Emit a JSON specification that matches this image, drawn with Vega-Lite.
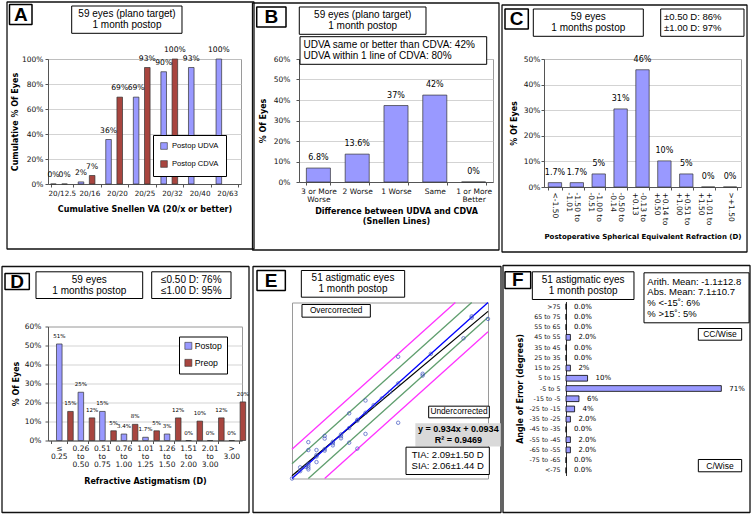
{
"$schema":"https://vega.github.io/schema/vega-lite/v6.json",
"background":"white",
"padding":0,
"columns":3,
"align":"none",
"spacing":{"row":-47.5,"column":-63},
"resolve":{"scale":{"color":"independent"},"legend":{"color":"independent"}},
"config":{
 "font":"DejaVu Sans",
 "view":{"stroke":"#9a9a9a","strokeWidth":1},
 "rect":{"strokeJoin":"bevel"},
 "axis":{"labelFont":"DejaVu Sans","labelFontSize":7.5,"labelColor":"#111","titleFont":"DejaVu Sans","titleFontSize":8,"titleFontWeight":"bold","titleColor":"#000","gridColor":"#c8c8c8","gridWidth":0.8,"domainColor":"#555","tickColor":"#555","tickSize":3},
 "text":{"color":"#000"}
},
"concat":[
{
 "width":193,"height":125,
 "resolve":{"scale":{"x":"independent","y":"independent"}},
 "layer":[
  {"data":{"values":[
    {"va":"20/12.5","series":"Postop UDVA","pct":0,"label":"0%"},
    {"va":"20/12.5","series":"Postop CDVA","pct":0,"label":"0%"},
    {"va":"20/16","series":"Postop UDVA","pct":1.7,"label":"2%"},
    {"va":"20/16","series":"Postop CDVA","pct":6.8,"label":"7%"},
    {"va":"20/20","series":"Postop UDVA","pct":35.6,"label":"36%"},
    {"va":"20/20","series":"Postop CDVA","pct":69.5,"label":"69%"},
    {"va":"20/25","series":"Postop UDVA","pct":69.5,"label":"69%"},
    {"va":"20/25","series":"Postop CDVA","pct":93.2,"label":"93%"},
    {"va":"20/32","series":"Postop UDVA","pct":89.8,"label":"90%"},
    {"va":"20/32","series":"Postop CDVA","pct":100,"label":"100%"},
    {"va":"20/40","series":"Postop UDVA","pct":93.2,"label":"93%"},
    {"va":"20/63","series":"Postop UDVA","pct":100,"label":"100%"}]},
   "encoding":{
    "x":{"field":"va","type":"nominal","sort":null,"scale":{"paddingInner":0.19,"paddingOuter":0.095},
      "axis":{"title":"Cumulative Snellen VA (20/x or better)","labelAngle":0,"labelFontSize":7.2,"tickBand":"extent","labelPadding":2,"titlePadding":9}},
    "xOffset":{"field":"series","type":"nominal","sort":["Postop UDVA","Postop CDVA"]},
    "y":{"field":"pct","type":"quantitative","scale":{"domain":[0,100]},
      "axis":{"title":"Cumulative % Of Eyes","values":[0,20,40,60,80,100],"labelExpr":"datum.value + '%'","labelPadding":2,"titlePadding":2,"grid":true}}
   },
   "layer":[
    {"mark":{"type":"bar","stroke":"#333","strokeWidth":0.7},
     "encoding":{"color":{"field":"series","type":"nominal","scale":{"domain":["Postop UDVA","Postop CDVA"],"range":["#9999ff","#a8453f"]},
       "legend":{"title":null,"orient":"none","legendX":105,"legendY":76,"padding":7,"rowPadding":8,"symbolType":"square","symbolSize":45,"symbolStrokeColor":"#333","symbolStrokeWidth":0.6,"labelFont":"Liberation Sans","labelFontSize":7.6,"strokeColor":"#000","fillColor":"#fff"}}}},
    {"mark":{"type":"text","dy":-9,"fontSize":7.6},"encoding":{"text":{"field":"label"}}}
   ]},
  {"data":{"values":[{}]},"layer":[
   {"mark":{"type":"rect","fill":"#fff","fillOpacity":0,"strokeWidth":0},"encoding":{"x":{"datum":-0.2124,"type":"quantitative","scale":{"domain":[0,1]},"axis":null},"x2":{"datum":1.2228},"y":{"datum":1.456,"type":"quantitative","scale":{"domain":[0,1]},"axis":null},"y2":{"datum":-0.76}}},
   {"mark":{"type":"rect","fill":"#fff","fillOpacity":0,"stroke":"#111","strokeWidth":1.3},"encoding":{"x":{"datum":-0.2124,"type":"quantitative","scale":{"domain":[0,1]},"axis":null},"x2":{"datum":1.0674},"y":{"datum":1.456,"type":"quantitative","scale":{"domain":[0,1]},"axis":null},"y2":{"datum":-0.52}}},
   {"mark":{"type":"rect","fill":"#fff","stroke":"#000","strokeWidth":1.5},"encoding":{"x":{"datum":-0.1995,"type":"quantitative","scale":{"domain":[0,1]},"axis":null},"x2":{"datum":-0.0829},"y":{"datum":1.436,"type":"quantitative","scale":{"domain":[0,1]},"axis":null},"y2":{"datum":1.276}}},
   {"mark":{"type":"text","font":"Liberation Sans","fontSize":19,"fontWeight":"bold","align":"center","baseline":"middle"},"encoding":{"x":{"datum":-0.1412,"type":"quantitative","scale":{"domain":[0,1]},"axis":null},"y":{"datum":1.356,"type":"quantitative","scale":{"domain":[0,1]},"axis":null},"text":{"value":"A"}}},
   {"mark":{"type":"rect","fill":"#fff","stroke":"#000","strokeWidth":1},"encoding":{"x":{"datum":0.1228,"type":"quantitative","scale":{"domain":[0,1]},"axis":null},"x2":{"datum":0.6943},"y":{"datum":1.424,"type":"quantitative","scale":{"domain":[0,1]},"axis":null},"y2":{"datum":1.2056}}},
   {"mark":{"type":"text","font":"Liberation Sans","fontSize":10,"lineHeight":11,"align":"center","baseline":"middle"},"encoding":{"x":{"datum":0.4093,"type":"quantitative","scale":{"domain":[0,1]},"axis":null},"y":{"datum":1.3584,"type":"quantitative","scale":{"domain":[0,1]},"axis":null},"text":{"value":["59 eyes (plano target)","1 month postop"]}}}
  ]}
 ]
},
{
 "width":194,"height":123,
 "resolve":{"scale":{"x":"independent","y":"independent"}},
 "layer":[
  {"data":{"values":[
    {"diff":"3 or More Worse","pct":6.8,"label":"6.8%"},
    {"diff":"2 Worse","pct":13.6,"label":"13.6%"},
    {"diff":"1 Worse","pct":37.3,"label":"37%"},
    {"diff":"Same","pct":42.4,"label":"42%"},
    {"diff":"1 or More Better","pct":0,"label":"0%"}]},
   "encoding":{
    "x":{"field":"diff","type":"nominal","sort":null,"scale":{"paddingInner":0.38,"paddingOuter":0.19},
      "axis":{"title":["Difference between  UDVA and CDVA","(Snellen Lines)"],"titleLineHeight":10,"labelAngle":0,"tickBand":"extent","labelPadding":2,"labelLineHeight":8,"titlePadding":5,
        "labelExpr":"datum.label == '3 or More Worse' ? ['3 or More', 'Worse'] : datum.label == '1 or More Better' ? ['1 or More', 'Better'] : datum.label"}},
    "y":{"field":"pct","type":"quantitative","scale":{"domain":[0,60]},
      "axis":{"title":"% Of Eyes","values":[0,10,20,30,40,50,60],"labelExpr":"datum.value + '%'","labelPadding":6,"titlePadding":6,"grid":true}}
   },
   "layer":[
    {"mark":{"type":"bar","stroke":"#333","strokeWidth":0.7,"color":"#9999ff"}},
    {"mark":{"type":"text","dy":-10,"fontSize":8},"encoding":{"text":{"field":"label"}}}
   ]},
  {"data":{"values":[{}]},"layer":[
   {"mark":{"type":"rect","fill":"#fff","fillOpacity":0,"strokeWidth":0},"encoding":{"x":{"datum":-0.3943,"type":"quantitative","scale":{"domain":[0,1]},"axis":null},"x2":{"datum":1.1856},"y":{"datum":1.4553,"type":"quantitative","scale":{"domain":[0,1]},"axis":null},"y2":{"datum":-0.7967}}},
   {"mark":{"type":"rect","fill":"#fff","fillOpacity":0,"stroke":"#111","strokeWidth":1.3},"encoding":{"x":{"datum":-0.2397,"type":"quantitative","scale":{"domain":[0,1]},"axis":null},"x2":{"datum":1.0309},"y":{"datum":1.4553,"type":"quantitative","scale":{"domain":[0,1]},"axis":null},"y2":{"datum":-0.5528}}},
   {"mark":{"type":"rect","fill":"#fff","stroke":"#000","strokeWidth":1.5},"encoding":{"x":{"datum":-0.218,"type":"quantitative","scale":{"domain":[0,1]},"axis":null},"x2":{"datum":-0.067},"y":{"datum":1.4228,"type":"quantitative","scale":{"domain":[0,1]},"axis":null},"y2":{"datum":1.2602}}},
   {"mark":{"type":"text","font":"Liberation Sans","fontSize":19,"fontWeight":"bold","align":"center","baseline":"middle"},"encoding":{"x":{"datum":-0.1428,"type":"quantitative","scale":{"domain":[0,1]},"axis":null},"y":{"datum":1.3415,"type":"quantitative","scale":{"domain":[0,1]},"axis":null},"text":{"value":"B"}}},
   {"mark":{"type":"rect","fill":"#fff","stroke":"#000","strokeWidth":1},"encoding":{"x":{"datum":0.0015,"type":"quantitative","scale":{"domain":[0,1]},"axis":null},"x2":{"datum":0.6546},"y":{"datum":1.4228,"type":"quantitative","scale":{"domain":[0,1]},"axis":null},"y2":{"datum":1.2008}}},
   {"mark":{"type":"text","font":"Liberation Sans","fontSize":10,"lineHeight":11,"align":"center","baseline":"middle"},"encoding":{"x":{"datum":0.3284,"type":"quantitative","scale":{"domain":[0,1]},"axis":null},"y":{"datum":1.3561,"type":"quantitative","scale":{"domain":[0,1]},"axis":null},"text":{"value":["59 eyes (plano target)","1 month postop"]}}},
   {"mark":{"type":"rect","fill":"#fff","stroke":"#000","strokeWidth":1},"encoding":{"x":{"datum":0.0052,"type":"quantitative","scale":{"domain":[0,1]},"axis":null},"x2":{"datum":0.9675},"y":{"datum":1.1813,"type":"quantitative","scale":{"domain":[0,1]},"axis":null},"y2":{"datum":0.9569}}},
   {"mark":{"type":"text","font":"Liberation Sans","fontSize":10,"lineHeight":11,"align":"left","baseline":"middle"},"encoding":{"x":{"datum":0.0232,"type":"quantitative","scale":{"domain":[0,1]},"axis":null},"y":{"datum":1.1138,"type":"quantitative","scale":{"domain":[0,1]},"axis":null},"text":{"value":["UDVA same or better than CDVA: 42%","UDVA within 1 line of CDVA: 80%"]}}}
  ]}
 ]
},
{
 "width":197,"height":128,
 "resolve":{"scale":{"x":"independent","y":"independent"}},
 "layer":[
  {"data":{"values":[
    {"se":"<-1.50","pct":1.7,"label":"1.7%"},
    {"se":"-1.50 to -1.01","pct":1.7,"label":"1.7%"},
    {"se":"-1.00 to -0.51","pct":5.1,"label":"5%"},
    {"se":"-0.50 to -0.14","pct":30.5,"label":"31%"},
    {"se":"-0.13 to +0.13","pct":45.8,"label":"46%"},
    {"se":"+0.14 to +0.50","pct":10.2,"label":"10%"},
    {"se":"+0.51 to +1.00","pct":5.1,"label":"5%"},
    {"se":"+1.01 to +1.50","pct":0,"label":"0%"},
    {"se":">+1.50","pct":0,"label":"0%"}]},
   "encoding":{
    "x":{"field":"se","type":"nominal","sort":null,"scale":{"paddingInner":0.39,"paddingOuter":0.195},
      "axis":{"title":"Postoperative Spherical Equivalent Refraction (D)","titleFontSize":7,"labelAngle":90,"tickBand":"extent","labelPadding":2,"labelLineHeight":8,"titlePadding":8,
        "labelExpr":"split(replace(datum.label, ' to ', ' to|'), '|')"}},
    "y":{"field":"pct","type":"quantitative","scale":{"domain":[0,50]},
      "axis":{"title":"% Of Eyes","values":[0,10,20,30,40,50],"labelExpr":"datum.value + '%'","labelPadding":1,"titlePadding":5,"grid":true}}
   },
   "layer":[
    {"mark":{"type":"bar","stroke":"#333","strokeWidth":0.7,"color":"#9999ff"}},
    {"mark":{"type":"text","dy":-10,"fontSize":8},"encoding":{"text":{"field":"label"}}}
   ]},
  {"data":{"values":[{}]},"layer":[
   {"mark":{"type":"rect","fill":"#fff","fillOpacity":0,"strokeWidth":0},"encoding":{"x":{"datum":-0.3401,"type":"quantitative","scale":{"domain":[0,1]},"axis":null},"x2":{"datum":1.0305},"y":{"datum":1.4219,"type":"quantitative","scale":{"domain":[0,1]},"axis":null},"y2":{"datum":-0.7422}}},
   {"mark":{"type":"rect","fill":"#fff","fillOpacity":0,"stroke":"#111","strokeWidth":1.3},"encoding":{"x":{"datum":-0.2132,"type":"quantitative","scale":{"domain":[0,1]},"axis":null},"x2":{"datum":1.0305},"y":{"datum":1.4219,"type":"quantitative","scale":{"domain":[0,1]},"axis":null},"y2":{"datum":-0.5078}}},
   {"mark":{"type":"rect","fill":"#fff","stroke":"#000","strokeWidth":1.5},"encoding":{"x":{"datum":-0.198,"type":"quantitative","scale":{"domain":[0,1]},"axis":null},"x2":{"datum":-0.0797},"y":{"datum":1.3906,"type":"quantitative","scale":{"domain":[0,1]},"axis":null},"y2":{"datum":1.2344}}},
   {"mark":{"type":"text","font":"Liberation Sans","fontSize":19,"fontWeight":"bold","align":"center","baseline":"middle"},"encoding":{"x":{"datum":-0.1386,"type":"quantitative","scale":{"domain":[0,1]},"axis":null},"y":{"datum":1.3125,"type":"quantitative","scale":{"domain":[0,1]},"axis":null},"text":{"value":"C"}}},
   {"mark":{"type":"rect","fill":"#fff","stroke":"#000","strokeWidth":1},"encoding":{"x":{"datum":-0.0543,"type":"quantitative","scale":{"domain":[0,1]},"axis":null},"x2":{"datum":0.5041},"y":{"datum":1.3906,"type":"quantitative","scale":{"domain":[0,1]},"axis":null},"y2":{"datum":1.1773}}},
   {"mark":{"type":"text","font":"Liberation Sans","fontSize":10,"lineHeight":11,"align":"center","baseline":"middle"},"encoding":{"x":{"datum":0.2249,"type":"quantitative","scale":{"domain":[0,1]},"axis":null},"y":{"datum":1.3266,"type":"quantitative","scale":{"domain":[0,1]},"axis":null},"text":{"value":["59 eyes","1 months postop"]}}},
   {"mark":{"type":"rect","fill":"#fff","stroke":"#000","strokeWidth":1},"encoding":{"x":{"datum":0.5924,"type":"quantitative","scale":{"domain":[0,1]},"axis":null},"x2":{"datum":1.0152},"y":{"datum":1.3906,"type":"quantitative","scale":{"domain":[0,1]},"axis":null},"y2":{"datum":1.1773}}},
   {"mark":{"type":"text","font":"Liberation Sans","fontSize":9.5,"lineHeight":11,"align":"left","baseline":"middle"},"encoding":{"x":{"datum":0.6091,"type":"quantitative","scale":{"domain":[0,1]},"axis":null},"y":{"datum":1.3266,"type":"quantitative","scale":{"domain":[0,1]},"axis":null},"text":{"value":["±0.50 D: 86%","±1.00 D: 97%"]}}}
  ]}
 ]
},
{
 "width":194,"height":114,
 "resolve":{"scale":{"x":"independent","y":"independent"}},
 "layer":[
  {"data":{"values":[
    {"ast":"≤ 0.25","series":"Postop","pct":50.8,"label":"51%"},
    {"ast":"≤ 0.25","series":"Preop","pct":15.3,"label":"15%"},
    {"ast":"0.26 to 0.50","series":"Postop","pct":25.4,"label":"25%"},
    {"ast":"0.26 to 0.50","series":"Preop","pct":11.9,"label":"12%"},
    {"ast":"0.51 to 0.75","series":"Postop","pct":15.3,"label":"15%"},
    {"ast":"0.51 to 0.75","series":"Preop","pct":5.1,"label":"5%"},
    {"ast":"0.76 to 1.00","series":"Postop","pct":3.4,"label":"3.4%"},
    {"ast":"0.76 to 1.00","series":"Preop","pct":8.5,"label":"8%"},
    {"ast":"1.01 to 1.25","series":"Postop","pct":1.7,"label":"1.7%"},
    {"ast":"1.01 to 1.25","series":"Preop","pct":5.1,"label":"5%"},
    {"ast":"1.26 to 1.50","series":"Postop","pct":3.4,"label":"3%"},
    {"ast":"1.26 to 1.50","series":"Preop","pct":11.9,"label":"12%"},
    {"ast":"1.51 to 2.00","series":"Postop","pct":0,"label":"0%"},
    {"ast":"1.51 to 2.00","series":"Preop","pct":10.2,"label":"10%"},
    {"ast":"2.01 to 3.00","series":"Postop","pct":0,"label":"0%"},
    {"ast":"2.01 to 3.00","series":"Preop","pct":11.9,"label":"12%"},
    {"ast":"> 3.00","series":"Postop","pct":0,"label":"0%"},
    {"ast":"> 3.00","series":"Preop","pct":20.3,"label":"20%"}]},
   "encoding":{
    "x":{"field":"ast","type":"nominal","sort":null,"scale":{"paddingInner":0.27,"paddingOuter":0.135},
      "axis":{"title":"Refractive Astigmatism (D)","labelAngle":0,"tickBand":"extent","labelPadding":1,"labelLineHeight":8,"titlePadding":9,"labelExpr":"split(datum.label, ' ')"}},
    "xOffset":{"field":"series","type":"nominal","sort":["Postop","Preop"]},
    "y":{"field":"pct","type":"quantitative","scale":{"domain":[0,60]},
      "axis":{"title":"% Of Eyes","values":[0,10,20,30,40,50,60],"labelExpr":"datum.value + '%'","labelPadding":4,"titlePadding":4,"grid":true}}
   },
   "layer":[
    {"mark":{"type":"bar","stroke":"#333","strokeWidth":0.7},
     "encoding":{"color":{"field":"series","type":"nominal","scale":{"domain":["Postop","Preop"],"range":["#9999ff","#a8453f"]},
       "legend":{"title":null,"orient":"none","legendX":131,"legendY":10,"padding":5,"rowPadding":6,"symbolType":"square","symbolSize":49,"symbolStrokeColor":"#333","symbolStrokeWidth":0.6,"labelFont":"Liberation Sans","labelFontSize":8.7,"labelOffset":2,"strokeColor":"#000","fillColor":"#fff"}}}},
    {"mark":{"type":"text","dy":-8,"fontSize":5.5},"encoding":{"text":{"field":"label"}}}
   ]},
  {"data":{"values":[{}]},"layer":[
   {"mark":{"type":"rect","fill":"#fff","fillOpacity":0,"strokeWidth":0},"encoding":{"x":{"datum":-0.2371,"type":"quantitative","scale":{"domain":[0,1]},"axis":null},"x2":{"datum":1.1907},"y":{"datum":1.7895,"type":"quantitative","scale":{"domain":[0,1]},"axis":null},"y2":{"datum":-0.6316}}},
   {"mark":{"type":"rect","fill":"#fff","fillOpacity":0,"stroke":"#111","strokeWidth":1.3},"encoding":{"x":{"datum":-0.2371,"type":"quantitative","scale":{"domain":[0,1]},"axis":null},"x2":{"datum":1.0361},"y":{"datum":1.5263,"type":"quantitative","scale":{"domain":[0,1]},"axis":null},"y2":{"datum":-0.6316}}},
   {"mark":{"type":"rect","fill":"#fff","stroke":"#000","strokeWidth":1.5},"encoding":{"x":{"datum":-0.2216,"type":"quantitative","scale":{"domain":[0,1]},"axis":null},"x2":{"datum":-0.0964},"y":{"datum":1.4649,"type":"quantitative","scale":{"domain":[0,1]},"axis":null},"y2":{"datum":1.3246}}},
   {"mark":{"type":"text","font":"Liberation Sans","fontSize":19,"fontWeight":"bold","align":"center","baseline":"middle"},"encoding":{"x":{"datum":-0.1588,"type":"quantitative","scale":{"domain":[0,1]},"axis":null},"y":{"datum":1.3947,"type":"quantitative","scale":{"domain":[0,1]},"axis":null},"text":{"value":"D"}}},
   {"mark":{"type":"rect","fill":"#fff","stroke":"#000","strokeWidth":1},"encoding":{"x":{"datum":-0.0619,"type":"quantitative","scale":{"domain":[0,1]},"axis":null},"x2":{"datum":0.4881},"y":{"datum":1.4798,"type":"quantitative","scale":{"domain":[0,1]},"axis":null},"y2":{"datum":1.2456}}},
   {"mark":{"type":"text","font":"Liberation Sans","fontSize":10,"lineHeight":11,"align":"center","baseline":"middle"},"encoding":{"x":{"datum":0.2129,"type":"quantitative","scale":{"domain":[0,1]},"axis":null},"y":{"datum":1.4105,"type":"quantitative","scale":{"domain":[0,1]},"axis":null},"text":{"value":["59 eyes","1 months postop"]}}},
   {"mark":{"type":"rect","fill":"#fff","stroke":"#000","strokeWidth":1},"encoding":{"x":{"datum":0.5345,"type":"quantitative","scale":{"domain":[0,1]},"axis":null},"x2":{"datum":0.9433},"y":{"datum":1.4798,"type":"quantitative","scale":{"domain":[0,1]},"axis":null},"y2":{"datum":1.2456}}},
   {"mark":{"type":"text","font":"Liberation Sans","fontSize":10,"lineHeight":11,"align":"center","baseline":"middle"},"encoding":{"x":{"datum":0.7387,"type":"quantitative","scale":{"domain":[0,1]},"axis":null},"y":{"datum":1.4105,"type":"quantitative","scale":{"domain":[0,1]},"axis":null},"text":{"value":["≤0.50 D: 76%","≤1.00 D: 95%"]}}}
  ]}
 ]
},
{
 "width":196,"height":176,
 "layer":[
  {"data":{"values":[
    {"line":"±1.00 D","x1":0,"y1":1,"x2":5,"y2":6},
    {"line":"±1.00 D","x1":1,"y1":0,"x2":6,"y2":5},
    {"line":"±0.50 D","x1":0,"y1":0.5,"x2":5.5,"y2":6},
    {"line":"±0.50 D","x1":0.5,"y1":0,"x2":6,"y2":5.5},
    {"line":"Fit","x1":0,"y1":0.0934,"x2":6,"y2":5.6974},
    {"line":"Identity","x1":0,"y1":0,"x2":6,"y2":6}]},
   "mark":{"type":"rule","strokeWidth":1.3},
   "encoding":{
    "x":{"field":"x1","type":"quantitative","scale":{"domain":[0,6]},
      "axis":{"title":"Target induced astigmatism vector (D)","values":[0,0.5,1,1.5,2,2.5,3,3.5,4,4.5,5,5.5,6],"format":".1f","labelFontSize":7,"labelPadding":3,"titlePadding":5,"grid":true}},
    "y":{"field":"y1","type":"quantitative","scale":{"domain":[0,6]},
      "axis":{"title":"Surgically induced astigmatism vector (D)","values":[0,0.5,1,1.5,2,2.5,3,3.5,4,4.5,5,5.5,6],"format":".1f","labelFontSize":7,"labelPadding":3,"titlePadding":4,"grid":true}},
    "x2":{"field":"x2"},"y2":{"field":"y2"},
    "color":{"field":"line","type":"nominal","scale":{"domain":["±1.00 D","±0.50 D","Fit","Identity"],"range":["#ff33ff","#5f9e6e","#000000","#0000ff"]},"legend":null}
   }},
  {"data":{"values":[
    {"tia":0,"sia":0},{"tia":0.25,"sia":0.38},{"tia":0.25,"sia":0.25},{"tia":0.42,"sia":0.4},
    {"tia":0.5,"sia":1.24},{"tia":0.5,"sia":0.97},{"tia":0.5,"sia":0.5},{"tia":0.5,"sia":0.44},{"tia":0.5,"sia":0.37},{"tia":0.5,"sia":0.31},
    {"tia":0.75,"sia":0.97},{"tia":0.75,"sia":0.8},{"tia":0.75,"sia":0.56},{"tia":0.75,"sia":0.75},
    {"tia":1,"sia":1.45},{"tia":1,"sia":1.36},{"tia":1,"sia":1.0},{"tia":1,"sia":0.95},
    {"tia":1.25,"sia":1.2},{"tia":1.25,"sia":1.13},{"tia":1.25,"sia":1.25},
    {"tia":1.5,"sia":1.5},{"tia":1.5,"sia":1.44},{"tia":1.5,"sia":1.37},
    {"tia":1.75,"sia":2.22},{"tia":1.75,"sia":1.22},{"tia":1.75,"sia":1.72},
    {"tia":2,"sia":2.0},{"tia":2,"sia":1.02},{"tia":2,"sia":1.97},
    {"tia":2.25,"sia":2.66},{"tia":2.25,"sia":2.24},{"tia":2.25,"sia":1.52},
    {"tia":2.5,"sia":2.5},{"tia":2.75,"sia":2.73},{"tia":3,"sia":2.95},
    {"tia":3.25,"sia":4.15},{"tia":3.25,"sia":3.24},{"tia":3.25,"sia":1.9},
    {"tia":4,"sia":3.57},{"tia":4,"sia":3.51},{"tia":4.25,"sia":4.25},
    {"tia":5.25,"sia":4.78},{"tia":5.5,"sia":5.53},{"tia":5.5,"sia":5.48},{"tia":6,"sia":5.44}]},
   "mark":{"type":"point","shape":"circle","size":12,"strokeWidth":1,"color":"#3a4fc0","filled":false},
   "encoding":{
    "x":{"field":"tia","type":"quantitative","scale":{"domain":[0,6]},"axis":null},
    "y":{"field":"sia","type":"quantitative","scale":{"domain":[0,6]},"axis":null}
   }},
  {"data":{"values":[{}]},"layer":[
   {"mark":{"type":"rect","fill":"#fff","fillOpacity":0,"strokeWidth":0},"encoding":{"x":{"datum":-2.112,"type":"quantitative","scale":{"domain":[0,6]},"axis":null},"x2":{"datum":7.316},"y":{"datum":8.25,"type":"quantitative","scale":{"domain":[0,6]},"axis":null},"y2":{"datum":-1.159}}},
   {"mark":{"type":"rect","fill":"#fff","fillOpacity":0,"stroke":"#111","strokeWidth":1.3},"encoding":{"x":{"datum":-1.194,"type":"quantitative","scale":{"domain":[0,6]},"axis":null},"x2":{"datum":6.398},"y":{"datum":7.227,"type":"quantitative","scale":{"domain":[0,6]},"axis":null},"y2":{"datum":-1.159}}},
   {"mark":{"type":"rect","fill":"#fff","stroke":"#000","strokeWidth":1.5},"encoding":{"x":{"datum":-1.071,"type":"quantitative","scale":{"domain":[0,6]},"axis":null},"x2":{"datum":-0.204},"y":{"datum":7.091,"type":"quantitative","scale":{"domain":[0,6]},"axis":null},"y2":{"datum":6.409}}},
   {"mark":{"type":"text","font":"Liberation Sans","fontSize":19,"fontWeight":"bold","align":"center","baseline":"middle"},"encoding":{"x":{"datum":-0.637,"type":"quantitative","scale":{"domain":[0,6]},"axis":null},"y":{"datum":6.75,"type":"quantitative","scale":{"domain":[0,6]},"axis":null},"text":{"value":"E"}}},
   {"mark":{"type":"rect","fill":"#fff","stroke":"#000","strokeWidth":1},"encoding":{"x":{"datum":0.286,"type":"quantitative","scale":{"domain":[0,6]},"axis":null},"x2":{"datum":3.449},"y":{"datum":7.091,"type":"quantitative","scale":{"domain":[0,6]},"axis":null},"y2":{"datum":6.181}}},
   {"mark":{"type":"text","font":"Liberation Sans","fontSize":10,"lineHeight":11,"align":"center","baseline":"middle"},"encoding":{"x":{"datum":1.867,"type":"quantitative","scale":{"domain":[0,6]},"axis":null},"y":{"datum":6.8235,"type":"quantitative","scale":{"domain":[0,6]},"axis":null},"text":{"value":["51 astigmatic eyes","1 month postop"]}}},
   {"mark":{"type":"rect","fill":"#fff","stroke":"#000","strokeWidth":1},"encoding":{"x":{"datum":0.306,"type":"quantitative","scale":{"domain":[0,6]},"axis":null},"x2":{"datum":2.398},"y":{"datum":5.932,"type":"quantitative","scale":{"domain":[0,6]},"axis":null},"y2":{"datum":5.5}}},
   {"mark":{"type":"text","font":"Liberation Sans","fontSize":8.3,"align":"center","baseline":"middle"},"encoding":{"x":{"datum":1.352,"type":"quantitative","scale":{"domain":[0,6]},"axis":null},"y":{"datum":5.716,"type":"quantitative","scale":{"domain":[0,6]},"axis":null},"text":{"value":"Overcorrected"}}},
   {"mark":{"type":"rect","fill":"#fff","stroke":"#000","strokeWidth":1},"encoding":{"x":{"datum":4.184,"type":"quantitative","scale":{"domain":[0,6]},"axis":null},"x2":{"datum":6.041},"y":{"datum":2.466,"type":"quantitative","scale":{"domain":[0,6]},"axis":null},"y2":{"datum":2.068}}},
   {"mark":{"type":"text","font":"Liberation Sans","fontSize":8.3,"align":"center","baseline":"middle"},"encoding":{"x":{"datum":5.112,"type":"quantitative","scale":{"domain":[0,6]},"axis":null},"y":{"datum":2.267,"type":"quantitative","scale":{"domain":[0,6]},"axis":null},"text":{"value":"Undercorrected"}}},
   {"mark":{"type":"rect","fill":"#d9d9d9","strokeWidth":0},"encoding":{"x":{"datum":3.776,"type":"quantitative","scale":{"domain":[0,6]},"axis":null},"x2":{"datum":6.39},"y":{"datum":1.886,"type":"quantitative","scale":{"domain":[0,6]},"axis":null},"y2":{"datum":1.091}}},
   {"mark":{"type":"text","font":"Liberation Sans","fontSize":9,"fontWeight":"bold","lineHeight":11,"align":"center","baseline":"middle"},"encoding":{"x":{"datum":5.092,"type":"quantitative","scale":{"domain":[0,6]},"axis":null},"y":{"datum":1.6765,"type":"quantitative","scale":{"domain":[0,6]},"axis":null},"text":{"value":["y = 0.934x + 0.0934","R² = 0.9469"]}}},
   {"mark":{"type":"rect","fill":"#fff","stroke":"#000","strokeWidth":1},"encoding":{"x":{"datum":3.49,"type":"quantitative","scale":{"domain":[0,6]},"axis":null},"x2":{"datum":6.041},"y":{"datum":1.068,"type":"quantitative","scale":{"domain":[0,6]},"axis":null},"y2":{"datum":0.136}}},
   {"mark":{"type":"text","font":"Liberation Sans","fontSize":9.5,"lineHeight":11,"align":"center","baseline":"middle"},"encoding":{"x":{"datum":4.766,"type":"quantitative","scale":{"domain":[0,6]},"axis":null},"y":{"datum":0.7895,"type":"quantitative","scale":{"domain":[0,6]},"axis":null},"text":{"value":["TIA: 2.09±1.50 D","SIA: 2.06±1.44 D"]}}}
  ]}
 ]
},
{
 "width":176,"height":174,
 "view":{"stroke":null},
 "resolve":{"scale":{"y":"independent"}},
 "layer":[
  {"data":{"values":[
    {"angle":">75","pct":0,"label":"0.0%"},
    {"angle":"65 to 75","pct":0,"label":"0.0%"},
    {"angle":"55 to 65","pct":0,"label":"0.0%"},
    {"angle":"45 to 55","pct":2.0,"label":"2.0%"},
    {"angle":"35 to 45","pct":0,"label":"0.0%"},
    {"angle":"25 to 35","pct":0,"label":"0.0%"},
    {"angle":"15 to 25","pct":2.0,"label":"2%"},
    {"angle":"5 to 15","pct":9.8,"label":"10%"},
    {"angle":"-5 to 5","pct":70.6,"label":"71%"},
    {"angle":"-15 to -5","pct":5.9,"label":"6%"},
    {"angle":"-25 to -15","pct":3.9,"label":"4%"},
    {"angle":"-35 to -25","pct":2.0,"label":"2.0%"},
    {"angle":"-45 to -35","pct":0,"label":"0.0%"},
    {"angle":"-55 to -45","pct":2.0,"label":"2.0%"},
    {"angle":"-65 to -55","pct":2.0,"label":"2.0%"},
    {"angle":"-75 to -65","pct":0,"label":"0.0%"},
    {"angle":"<-75","pct":0,"label":"0.0%"}]},
   "encoding":{
    "y":{"field":"angle","type":"nominal","sort":null,"scale":{"paddingInner":0.44,"paddingOuter":0.22},
      "axis":{"title":"Angle of Error (degrees)","labelFontSize":6.3,"ticks":false,"labelPadding":6,"titlePadding":5,"domainColor":"#333"}},
    "x":{"field":"pct","type":"quantitative","scale":{"domain":[0,80]},
      "axis":{"title":"Percentage Eyes (%)","values":[0,10,20,30,40,50,60,70,80],"labelExpr":"datum.value + '%'","labelPadding":2,"titlePadding":6,"grid":true,"domainColor":"#999"}}
   },
   "layer":[
    {"mark":{"type":"bar","stroke":"#000","strokeWidth":0.8,"color":"#9999ff"}},
    {"mark":{"type":"text","dx":8,"align":"left","fontSize":7},"encoding":{"text":{"field":"label"}}}
   ]},
  {"data":{"values":[{}]},"layer":[
   {"mark":{"type":"rect","fill":"#fff","fillOpacity":0,"strokeWidth":0},"encoding":{"x":{"datum":-44.09,"type":"quantitative","scale":{"domain":[0,80]},"axis":null},"x2":{"datum":83.64},"y":{"datum":1.3793,"type":"quantitative","scale":{"domain":[0,1]},"axis":null},"y2":{"datum":-0.2126}}},
   {"mark":{"type":"rect","fill":"#fff","fillOpacity":0,"stroke":"#111","strokeWidth":1.3},"encoding":{"x":{"datum":-28.64,"type":"quantitative","scale":{"domain":[0,80]},"axis":null},"x2":{"datum":83.64},"y":{"datum":1.2069,"type":"quantitative","scale":{"domain":[0,1]},"axis":null},"y2":{"datum":-0.2126}}},
   {"mark":{"type":"rect","fill":"#fff","stroke":"#000","strokeWidth":1.5},"encoding":{"x":{"datum":-27.73,"type":"quantitative","scale":{"domain":[0,80]},"axis":null},"x2":{"datum":-16.05},"y":{"datum":1.1707,"type":"quantitative","scale":{"domain":[0,1]},"axis":null},"y2":{"datum":1.0747}}},
   {"mark":{"type":"text","font":"Liberation Sans","fontSize":19,"fontWeight":"bold","align":"center","baseline":"middle"},"encoding":{"x":{"datum":-21.9,"type":"quantitative","scale":{"domain":[0,80]},"axis":null},"y":{"datum":1.1226,"type":"quantitative","scale":{"domain":[0,1]},"axis":null},"text":{"value":"F"}}},
   {"mark":{"type":"rect","fill":"#fff","stroke":"#000","strokeWidth":1},"encoding":{"x":{"datum":-15.3,"type":"quantitative","scale":{"domain":[0,80]},"axis":null},"x2":{"datum":30.9},"y":{"datum":1.1707,"type":"quantitative","scale":{"domain":[0,1]},"axis":null},"y2":{"datum":1.0115}}},
   {"mark":{"type":"text","font":"Liberation Sans","fontSize":10,"lineHeight":11,"align":"center","baseline":"middle"},"encoding":{"x":{"datum":7.8,"type":"quantitative","scale":{"domain":[0,80]},"axis":null},"y":{"datum":1.1224,"type":"quantitative","scale":{"domain":[0,1]},"axis":null},"text":{"value":["51 astigmatic eyes","1 month postop"]}}},
   {"mark":{"type":"rect","fill":"#fff","stroke":"#000","strokeWidth":1},"encoding":{"x":{"datum":35.45,"type":"quantitative","scale":{"domain":[0,80]},"axis":null},"x2":{"datum":83.2},"y":{"datum":1.1649,"type":"quantitative","scale":{"domain":[0,1]},"axis":null},"y2":{"datum":0.8776}}},
   {"mark":{"type":"text","font":"Liberation Sans","fontSize":9.5,"lineHeight":10.6,"align":"left","baseline":"middle"},"encoding":{"x":{"datum":36.97,"type":"quantitative","scale":{"domain":[0,80]},"axis":null},"y":{"datum":1.1132,"type":"quantitative","scale":{"domain":[0,1]},"axis":null},"text":{"value":["Arith. Mean: -1.1±12.8","Abs. Mean: 7.1±10.7","% <-15˚: 6%","% >15˚: 5%"]}}},
   {"mark":{"type":"rect","fill":"#fff","stroke":"#000","strokeWidth":1},"encoding":{"x":{"datum":60.15,"type":"quantitative","scale":{"domain":[0,80]},"axis":null},"x2":{"datum":79.85},"y":{"datum":0.8448,"type":"quantitative","scale":{"domain":[0,1]},"axis":null},"y2":{"datum":0.7776}}},
   {"mark":{"type":"text","font":"Liberation Sans","fontSize":8.5,"align":"center","baseline":"middle"},"encoding":{"x":{"datum":70,"type":"quantitative","scale":{"domain":[0,80]},"axis":null},"y":{"datum":0.8115,"type":"quantitative","scale":{"domain":[0,1]},"axis":null},"text":{"value":"CC/Wise"}}},
   {"mark":{"type":"rect","fill":"#fff","stroke":"#000","strokeWidth":1},"encoding":{"x":{"datum":60.15,"type":"quantitative","scale":{"domain":[0,80]},"axis":null},"x2":{"datum":79.85},"y":{"datum":0.092,"type":"quantitative","scale":{"domain":[0,1]},"axis":null},"y2":{"datum":0.0213}}},
   {"mark":{"type":"text","font":"Liberation Sans","fontSize":8.5,"align":"center","baseline":"middle"},"encoding":{"x":{"datum":70,"type":"quantitative","scale":{"domain":[0,80]},"axis":null},"y":{"datum":0.0563,"type":"quantitative","scale":{"domain":[0,1]},"axis":null},"text":{"value":"C/Wise"}}}
  ]}
 ]
}
]
}
